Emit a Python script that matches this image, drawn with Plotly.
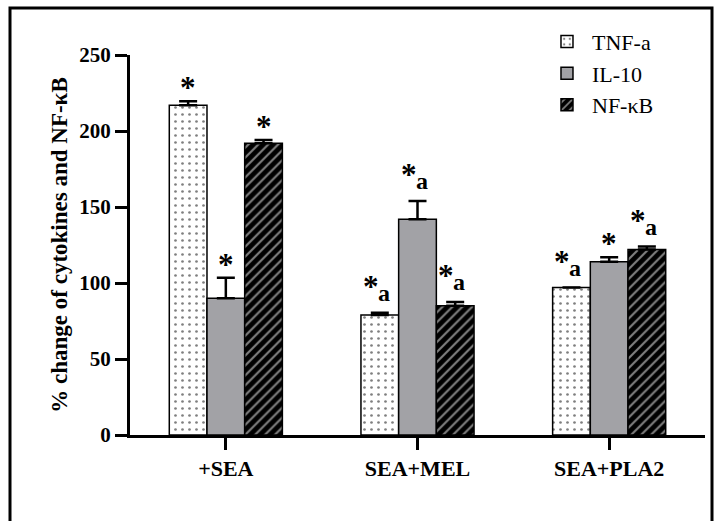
import plotly.graph_objects as go

groups = ["+SEA", "SEA+MEL", "SEA+PLA2"]
tnf = [217, 79, 97]
tnf_err = [2.5, 1.5, 0]
il10 = [90, 142, 114]
il10_err = [13.5, 12, 3]
nfkb = [192, 85, 122]
nfkb_err = [2, 2.5, 2]
tnf_lbl = ["*", "*a", "*a"]
il10_lbl = ["*", "*a", "*"]
nfkb_lbl = ["*", "*a", "*a"]

FONT = "Liberation Serif"
bargap = 0.41

fig = go.Figure()
series = [
    ("TNF-a", tnf, tnf_err, dict(color="white", line=dict(color="black", width=1.5),
                                 pattern=dict(shape=".", fgcolor="black", bgcolor="white", size=7, solidity=0.12))),
    ("IL-10", il10, il10_err, dict(color="#a2a2a6", line=dict(color="black", width=1.5))),
    ("NF-κB", nfkb, nfkb_err, dict(color="black", line=dict(color="black", width=1.5),
                                   pattern=dict(shape="/", fgcolor="white", bgcolor="black", size=7, solidity=0.3))),
]
for name, vals, errs, marker in series:
    fig.add_trace(go.Bar(
        name=name, x=list(range(len(groups))), y=vals, marker=marker,
        error_y=dict(type="data", array=errs, arrayminus=[0]*len(errs), symmetric=False,
                     color="black", thickness=2.5, width=9),
    ))

w = (1 - bargap) / 3
sfont = dict(family=FONT, size=31, color="black", weight="bold")
afont = dict(family=FONT, size=24, color="black", weight="bold")
for k, (vals, errs, lbls) in enumerate([(tnf, tnf_err, tnf_lbl), (il10, il10_err, il10_lbl), (nfkb, nfkb_err, nfkb_lbl)]):
    for i in range(len(groups)):
        xp = i + (k - 1) * w
        yp = vals[i] + errs[i]
        if lbls[i] == "*":
            fig.add_annotation(x=xp, y=yp, text="*", showarrow=False, yanchor="bottom",
                               yshift=-6, font=sfont)
        else:
            fig.add_annotation(x=xp, y=yp, text="*", showarrow=False, yanchor="bottom",
                               xshift=-9, yshift=7, font=sfont)
            fig.add_annotation(x=xp, y=yp, text=lbls[i][1:], showarrow=False, yanchor="bottom",
                               xshift=4, yshift=5, font=afont)

fig.update_layout(
    width=714, height=521, barmode="group", bargap=bargap, bargroupgap=0,
    paper_bgcolor="white", plot_bgcolor="white",
    margin=dict(l=130, r=9, t=55, b=86, autoexpand=False),
    font=dict(family=FONT, color="black"),
    legend=dict(x=0.7165, y=1.09, xanchor="left", yanchor="top", font=dict(family=FONT, size=22),
                bgcolor="rgba(0,0,0,0)", tracegroupgap=0, itemwidth=40),
    xaxis=dict(range=[-0.5, 2.5], tickmode="array", tickvals=list(range(len(groups))), ticktext=groups,
               showline=True, linecolor="black", linewidth=3, ticks="outside", ticklen=12,
               tickwidth=3, tickcolor="black", showgrid=False, zeroline=False, automargin=False,
               tickfont=dict(family=FONT, size=22, color="black", weight="bold")),
    yaxis=dict(range=[0, 250], tickvals=[0, 50, 100, 150, 200, 250],
               showline=True, linecolor="black", linewidth=3, ticks="outside", ticklen=12,
               tickwidth=3, tickcolor="black", showgrid=False, zeroline=False, automargin=False,
               tickfont=dict(family=FONT, size=21, color="black", weight="bold"),
               title=dict(text="<b>% change of cytokines and NF-κB</b>", standoff=6,
                          font=dict(family=FONT, size=23, color="black"))),
)
# outer frame
fig.add_shape(type="rect", xref="paper", yref="paper",
              x0=(10 - 130) / 575, x1=(712 - 130) / 575, y0=(435 - 530) / 380, y1=(435 - 8) / 380,
              line=dict(color="black", width=3), fillcolor="rgba(0,0,0,0)", layer="below")

fig.write_html("out.html", config={"displayModeBar": False},
               post_script="document.body.style.margin='0';document.body.style.padding='0';")
